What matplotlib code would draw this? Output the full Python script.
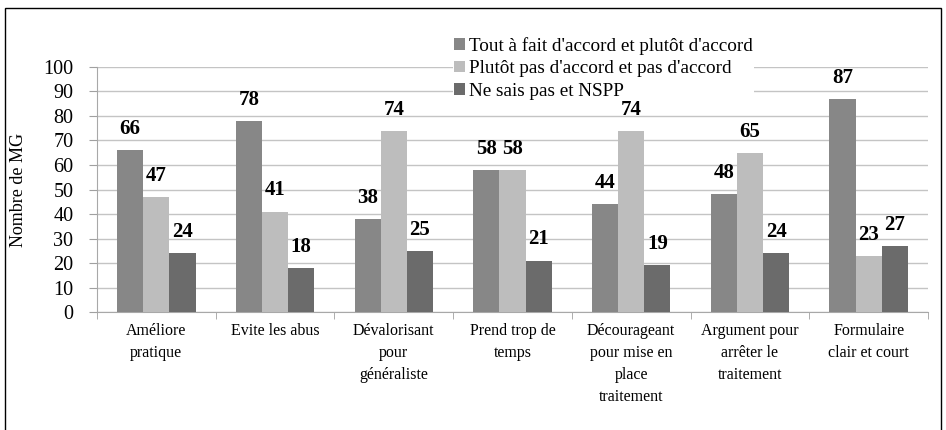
import numpy as np
import matplotlib.pyplot as plt
from matplotlib.patches import Rectangle

plt.rcParams['font.family'] = ['Liberation Serif', 'DejaVu Serif']

categories = ["Améliore\npratique", "Evite les abus", "Dévalorisant\npour\ngénéraliste",
              "Prend trop de\ntemps", "Décourageant\npour mise en\nplace\ntraitement",
              "Argument pour\narrêter le\ntraitement", "Formulaire\nclair et court"]
series_names = ["Tout à fait d'accord et plutôt d'accord",
                "Plutôt pas d'accord et pas d'accord",
                "Ne sais pas et NSPP"]
accord = [66, 78, 38, 58, 44, 48, 87]
pas_accord = [47, 41, 74, 58, 74, 65, 23]
nspp = [24, 18, 25, 21, 19, 24, 27]
ylabel = "Nombre de MG"

colors = ['#878787', '#bdbdbd', '#6b6b6b']
series = [accord, pas_accord, nspp]

fig = plt.figure(figsize=(9.46, 4.30), dpi=100)
ax = fig.add_axes([0.1025, 0.2744, 0.8785, 0.5698])

x = np.arange(len(categories))
w = 0.22
for i, (vals, col, name) in enumerate(zip(series, colors, series_names)):
    bars = ax.bar(x + (i - 1) * w, vals, w, color=col, label=name, zorder=3)
    for b, v in zip(bars, vals):
        ax.annotate(str(v), (b.get_x() + b.get_width() / 2, v), xytext=(0, 8),
                    textcoords='offset points', ha='center', va='bottom',
                    fontsize=15, fontweight='bold', zorder=5)

ax.set_xlim(-0.5, len(categories) - 0.5)
ax.set_ylim(0, 100)
ax.set_yticks(range(0, 101, 10))
ax.tick_params(axis='y', labelsize=14.5, length=6, color='#a0a0a0', pad=11)
ax.set_xticks(x)
ax.set_xticklabels(categories, fontsize=11.5, linespacing=1.5, va='top')
ax.tick_params(axis='x', length=0, pad=8)
ax.set_xticks(np.arange(-0.5, len(categories)), minor=True)
ax.tick_params(axis='x', which='minor', length=5, color='#a0a0a0')
ax.yaxis.grid(True, color='#c4c4c4', linewidth=1)
ax.set_axisbelow(True)
for s in ['top', 'right']:
    ax.spines[s].set_visible(False)
for s in ['left', 'bottom']:
    ax.spines[s].set_color('#a8a8a8')
ax.set_ylabel(ylabel, fontsize=13)
ax.yaxis.set_label_coords(-0.084, 0.5)

leg = fig.legend(loc='upper left', bbox_to_anchor=(0.479, 0.917), frameon=True,
                 edgecolor='none', facecolor='white', framealpha=1, fontsize=13.8,
                 handlelength=0.55, handleheight=0.55, handletextpad=0.25,
                 labelspacing=0.3, borderpad=0.05, borderaxespad=0)
leg.set_zorder(10)

fig.patches.append(Rectangle((5 / 946, -0.1), 936 / 946, 1.1 - 8 / 430,
                             transform=fig.transFigure, fill=False,
                             edgecolor='black', linewidth=1))

fig.savefig('out.png', dpi=100)
